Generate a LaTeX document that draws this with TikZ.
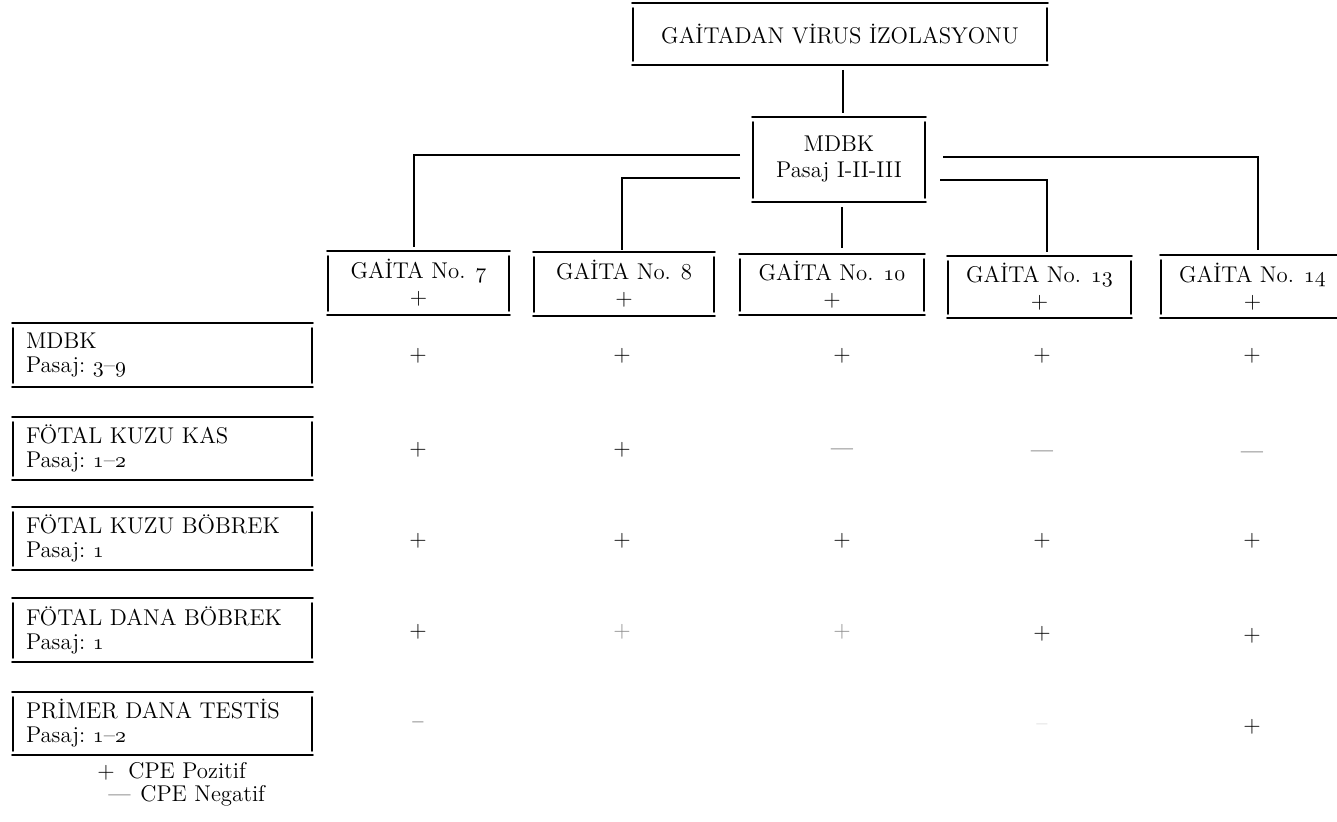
\documentclass[tikz,border=0pt]{standalone}
\usepackage{fontspec}
\usetikzlibrary{calc}
\newcommand\osn[1]{{\usefont{OML}{cmm}{m}{it}#1}}
\newcommand\fsmain{\fontsize{11.4}{13}\selectfont\addfontfeatures{LetterSpace=5,FakeBold=1.6}}
\newcommand\fsleft{\fontsize{11.4}{12}\selectfont\addfontfeatures{LetterSpace=5,FakeBold=1.6}}
\tikzset{
  bx/.style={draw=none, inner sep=0pt, outer sep=0pt, align=center, font=\fsmain},
  lbox/.style={draw=none, anchor=west, inner xsep=7pt, inner ysep=0pt, outer sep=0pt,
               text width=136.5pt, minimum height=#1, align=left, font=\fsleft},
  boxline/.style={line width=0.9pt, line cap=round},
  conn/.style={line width=0.9pt},
  sym/.style={inner sep=0pt, font=\fontsize{11.4}{12}\selectfont\addfontfeatures{FakeBold=2.5}},
  faint/.style={sym, text=black!45},
  leg/.style={inner sep=0pt, anchor=base west, font=\fsmain},
}
\begin{document}
\begin{tikzpicture}[x=0.5pt,y=-0.5pt]
\useasboundingbox (0,0) rectangle (1337,822);
% boxes
\node[bx, minimum width=208pt, minimum height=31pt] (top) at (840,34) {GAİTADAN VİRUS İZOLASYONU};
\node[bx, minimum width=87pt, minimum height=42.5pt] (mdbk) at (839,159.5) {MDBK\\Pasaj I-II-III};
\node[bx, minimum width=91.5pt, minimum height=32pt] (g7) at (418.5,283) {GAİTA No. \osn{7}\\+};
\node[bx, minimum width=91pt, minimum height=32pt] (g8) at (624,284) {GAİTA No. 8\\+};
\node[bx, minimum width=93pt, minimum height=30.5pt] (g10) at (832,284.5) {GAİTA No. \osn{10}\\+};
\node[bx, minimum width=92.5pt, minimum height=31pt] (g13) at (1039.5,287) {GAİTA No. \osn{13}\\+};
\node[bx, minimum width=92.5pt, minimum height=31.5pt] (g14) at (1252.5,286.5) {GAİTA No. \osn{14}\\+};
\node[lbox=32pt] (l1) at (12,355) {MDBK\\Pasaj:~\osn{3}--\osn{9}};
\node[lbox=31.5pt] (l2) at (12,448.5) {FÖTAL KUZU KAS\\Pasaj:~\osn{1}--\osn{2}};
\node[lbox=31.5pt] (l3) at (12,538.5) {FÖTAL KUZU BÖBREK\\Pasaj:~\osn{1}};
\node[lbox=32pt] (l4) at (12,630) {FÖTAL DANA BÖBREK\\Pasaj:~\osn{1}};
\node[lbox=31.5pt] (l5) at (12,723.5) {PRİMER DANA TESTİS\\Pasaj:~\osn{1}--\osn{2}};
% bracket-like frames
\foreach \n in {top,mdbk,g7,g8,g10,g13,g14,l1,l2,l3,l4,l5}{
  \draw[boxline] (\n.north west) -- (\n.north east);
  \draw[boxline] (\n.south west) -- (\n.south east);
  \draw[boxline] ([xshift=0.5pt,yshift=-2.5pt]\n.north west) -- ([xshift=0.5pt,yshift=2pt]\n.south west);
  \draw[boxline] ([xshift=-0.5pt,yshift=-2.5pt]\n.north east) -- ([xshift=-0.5pt,yshift=2pt]\n.south east);
}
% connectors
\draw[conn] ([xshift=1.5pt,yshift=-2.5pt]top.south) -- ([xshift=2pt,yshift=2pt]mdbk.north);
\draw[conn] ([xshift=-6pt,yshift=2.25pt]mdbk.west) -| ([xshift=-2.25pt,yshift=2pt]g7.north);
\draw[conn] ([xshift=-6pt,yshift=-9.25pt]mdbk.west) -| ([xshift=-1pt,yshift=1pt]g8.north);
\draw[conn] ([xshift=1.5pt,yshift=-2.5pt]mdbk.south) -- ([xshift=5pt,yshift=3pt]g10.north);
\draw[conn] ([xshift=7pt,yshift=-10.25pt]mdbk.east) -| ([xshift=3.75pt,yshift=2pt]g13.north);
\draw[conn] ([xshift=8.5pt,yshift=1.25pt]mdbk.east) -| ([xshift=2.75pt,yshift=2.5pt]g14.north);
% result symbols
\foreach \c/\x in {1/418,2/622,3/842,4/1042,5/1252}{
  \foreach \r/\y in {1/356,3/541}{
    \node[sym] (c\r\c) at (\x,\y) {+};
  }
}
\node[sym] (c21) at (418,450) {+};
\node[sym] (c22) at (622,450) {+};
\node[sym] (c23) at (842,452) {---};
\node[sym] (c24) at (1042,454) {---};
\node[sym] (c25) at (1252,455) {---};
\node[sym] (c41) at (418,632) {+};
\node[faint] (c42) at (622,632) {+};
\node[faint] (c43) at (842,632) {+};
\node[sym] (c44) at (1042,634) {+};
\node[sym] (c45) at (1252,636) {+};
\node[sym] (c51) at (418,725) {--};
\node[sym, text=black!25] (c54) at (1042,727) {--};
\node[sym] (c55) at (1252,727) {+};
% legend
\node[leg] (lp) at (97,778) {+};
\node[leg] (lpt) at (128,778) {CPE Pozitif};
\node[leg] (ln) at (108,801) {---};
\node[leg] (lnt) at (140,801) {CPE Negatif};
\end{tikzpicture}
\end{document}
